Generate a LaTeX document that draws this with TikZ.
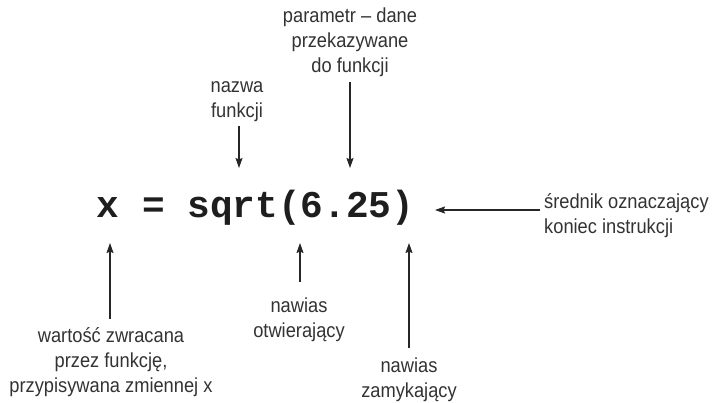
\documentclass[tikz,border=0pt]{standalone}
\usepackage{fontspec}
\setmainfont[FakeStretch=0.9]{Liberation Sans}
\newfontfamily\codefont{Liberation Mono}
\usetikzlibrary{arrows.meta}
\definecolor{labelgray}{HTML}{333333}
\definecolor{codegray}{HTML}{1E1E1E}
\tikzset{
  lbl/.style={inner sep=0pt, align=center, text=labelgray, font=\fontsize{20.3}{25}\selectfont, anchor=base},
  arr/.style={draw=black!85, line width=1.3pt, -{Stealth[length=10pt,width=7pt,inset=1.5pt]}},
}
\begin{document}
\begin{tikzpicture}[x=1pt,y=-1pt]
\useasboundingbox[fill=white] (0,0) rectangle (717,402);
% code
\node[inner sep=0pt, anchor=base, text=codegray, font=\codefont\bfseries\fontsize{37.8}{38}\selectfont] (code) at (255.5,217) {x = sqrt(6.25)};
% arrow tips
\coordinate (tparam) at (350,168);
\coordinate (tname) at (239,168);
\coordinate (tsred) at (435,210);
\coordinate (tret) at (110,243);
\coordinate (topen) at (300,243);
\coordinate (tclose) at (409,243);
% labels (base anchor = last line)
\node[lbl] (param) at (350,72) {parametr – dane\\przekazywane\\do funkcji};
\node[lbl] (name) at (237,117) {nazwa\\funkcji};
\node[lbl, align=left, anchor=base west] (sred) at (544,233) {średnik oznaczający\\koniec instrukcji};
\node[lbl] (ret) at (111,392) {wartość zwracana\\przez funkcję,\\przypisywana zmiennej x};
\node[lbl] (open) at (299,337) {nawias\\otwierający};
\node[lbl] (close) at (409,397) {nawias\\zamykający};
% connectors
\draw[arr, shorten <=6pt] (param.south -| tparam) -- (tparam);
\draw[arr, shorten <=5pt] (name.south -| tname) -- (tname);
\draw[arr, shorten <=4pt] (sred.west |- tsred) -- (tsred);
\draw[arr, shorten <=8pt] (ret.north -| tret) -- (tret);
\draw[arr, shorten <=15pt] (open.north -| topen) -- (topen);
\draw[arr, shorten <=9pt] (close.north -| tclose) -- (tclose);
\end{tikzpicture}
\end{document}
